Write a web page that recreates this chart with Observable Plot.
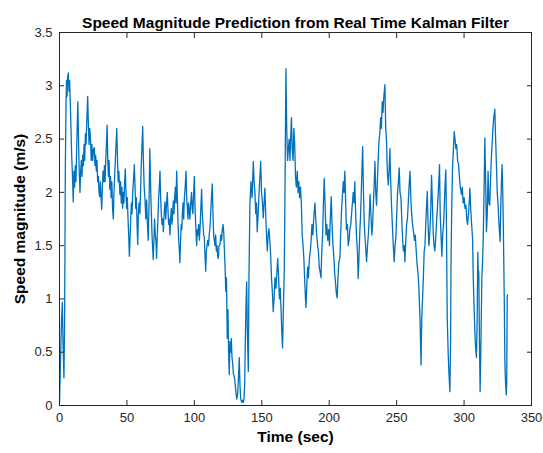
<!DOCTYPE html>
<html><head><meta charset="utf-8">
<script src="https://cdn.jsdelivr.net/npm/d3@7"></script>
<script src="https://cdn.jsdelivr.net/npm/@observablehq/plot@0.6"></script>
<style>
body{margin:0;background:#fff;}
#chart svg{font-family:"Liberation Sans",Arial,sans-serif;}
</style>
</head><body><div id="chart"></div>
<script>
const titleText = "Speed Magnitude Prediction from Real Time Kalman Filter";
const xLabelText = "Time (sec)";
const yLabelText = "Speed magnitude (m/s)";
const xTicks = [0, 50, 100, 150, 200, 250, 300, 350];
const yTicks = [0, 0.5, 1, 1.5, 2, 2.5, 3, 3.5];

// [time (s), speed magnitude (m/s)]
const speedSeries = [
[0,0.02],[0.5,0.3],[1,0.55],[1.5,0.8],[2.1,0.97],[2.6,0.6],[3.3,0.26],[3.8,0.8],[4.3,2.2],[4.8,2.8],[5.2,3.05],[5.6,2.9],[6,3.08],[6.5,3.12],[7,2.95],[7.5,3.05],[8,2.85],[8.5,2.6],[9,2.35],[9.5,2.2],[10.2,1.91],
[10.7,2.2],[11.2,2.05],[11.7,2.25],[12.2,2.1],[12.7,2.4],[13.1,2.6],[13.6,2.85],[14.1,2.5],[14.6,2.2],[15.2,2.0],[15.7,2.2],[16.2,2.3],[16.7,2.15],[17.2,2.35],[17.7,2.25],[18.2,2.45],[18.7,2.3],[19.2,2.55],[19.7,2.45],[20.2,2.65],[20.6,2.8],[20.9,2.9],[21.4,2.65],[21.9,2.45],[22.4,2.6],[23,2.5],[23.5,2.3],[24,2.45],[24.6,2.3],[25.2,2.4],[25.8,2.42],[26.3,2.25],[26.8,2.35],[27.3,2.2],[27.8,2.3],[28.3,2.1],[28.8,2.15],[29.3,2.0],[29.8,1.96],[30.3,2.1],[30.8,1.95],[31.3,1.84],
[31.8,2.05],[32.3,2.2],[32.8,2.1],[33.3,2.25],[33.8,2.1],[34.3,2.3],[34.8,2.45],[35.3,2.63],[35.8,2.3],[36.3,2.15],[36.8,2.3],[37.3,2.03],[37.8,2.15],[38.3,1.95],[38.8,2.1],[39.4,1.84],[39.9,1.75],[40.4,2.0],[40.9,2.15],[41.4,2.3],[41.9,2.45],[42.5,2.6],[43,2.3],[43.5,2.1],[44,2.2],[44.8,1.98],[45.3,2.1],[45.8,1.9],[46.3,2.05],[46.8,1.85],[47.3,2.0],[47.8,1.9],[48.3,2.1],[48.8,2.22],[49.3,2.0],[49.8,1.85],[50.3,1.95],[50.8,1.76],[51.3,1.6],[51.8,1.4],[52.3,1.55],[52.8,1.75],[53.3,1.9],[53.8,1.8],[54.3,2.0],[54.8,2.1],[55.5,2.26],[56,2.05],[56.5,1.85],[57,1.95],[57.5,1.7],[58,1.51],[58.5,1.8],[59,1.9],[59.6,1.8],[60.1,2.0],[60.6,2.25],[61.2,2.45],[61.7,2.62],[62.2,2.3],[62.8,2.05],[63.4,1.93],[64,1.75],[64.6,1.93],[65.2,1.7],[65.8,1.55],[66.4,1.9],[67,2.41],[67.5,2.1],[68,1.85],[68.6,1.6],[69.2,1.45],[69.5,1.37],[70,1.55],[70.5,1.75],[71,1.6],[71.5,1.55],[72,1.38],
[72.5,1.6],[73,1.75],[73.5,1.95],[74,2.05],[74.5,2.2],[75,1.95],[75.5,1.8],[76,1.7],[76.5,1.75],[77,1.63],[77.6,1.8],[78.2,1.91],[78.8,1.75],[79.4,1.9],[79.9,2.0],[80.4,1.85],[80.9,1.7],[81.4,1.75],[81.9,1.6],[82.4,1.75],[82.9,1.85],[83.4,1.7],[83.9,1.8],[84.4,1.92],[84.9,1.8],[85.4,1.95],[85.9,2.05],[86.4,1.9],[86.9,2.2],[87.4,1.95],[87.9,1.7],[88.4,1.55],[88.9,1.45],[89.3,1.34],[89.8,1.55],[90.3,1.7],[90.7,1.65],[91.1,1.8],[91.6,1.9],[92.1,1.75],[92.6,1.95],[93.2,2.05],[93.8,2.2],[94.3,1.95],[94.8,1.85],[95.3,1.75],[95.7,1.9],[96.2,1.84],[96.7,1.75],[97.3,1.9],[97.9,2.0],[98.4,1.85],[98.9,1.8],[99.5,2.0],[100,2.15],[100.5,1.85],[101,1.7],[101.7,1.5],[102.2,1.65],[102.7,1.6],[103.2,1.7],[103.7,1.55],[104.2,1.65],[104.8,1.85],[105.4,2.03],[105.9,1.8],[106.4,1.7],[106.9,1.6],[107.4,1.58],[107.9,1.4],[108.4,1.26],[108.9,1.45],[109.4,1.5],[109.9,1.55],[110.5,1.5],[111,1.6],[111.6,1.67],[112.1,1.8],[112.7,1.95],[113.3,2.08],[113.8,1.8],[114.3,1.6],[114.8,1.55],[115.3,1.5],[115.8,1.6],[116.3,1.45],[116.8,1.5],[117.3,1.4],[117.8,1.38],[118.3,1.5],[119,1.51],[119.6,1.6],[120.2,1.55],[120.7,1.65],[121.3,1.7],[121.8,1.62],[122.3,1.45],[122.8,1.29],[123.3,1.07],[123.8,1.2],[124.4,0.63],[124.9,0.9],[125.4,0.5],[125.9,0.29],[126.4,0.6],[126.9,0.5],[127.4,0.63],[127.9,0.45],[128.4,0.4],[128.9,0.3],[129.4,0.28],[129.9,0.25],[130.5,0.17],[131,0.1],[131.5,0.06],[132,0.1],[132.5,0.2],[133,0.35],[133.3,0.45],[133.8,0.2],[134.3,0.07],[134.8,0.04],[135.3,0.03],[135.8,0.05],[136.3,0.03],[136.8,0.06],[137.3,0.2],[137.8,0.6],[138.3,0.95],[138.8,1.16],[139.3,0.7],[140,0.32],[140.5,1.2],
[141.2,1.89],[142,2.1],[142.8,1.95],[143.7,2.29],[144.3,2.1],[144.9,2.0],[145.5,1.8],[146.1,1.9],[146.6,1.63],[147.3,1.8],[148,2.0],[148.6,2.15],[149.2,2.29],[149.8,2.0],[150.5,1.9],[151.1,1.76],[151.7,1.9],[152.3,2.04],[152.9,1.8],[153.5,1.6],[154.1,1.45],[154.7,1.6],[155.3,1.66],[156,1.55],[156.6,1.4],[157.2,1.2],[157.9,1.05],[158.5,0.88],[159.1,1.0],[159.8,1.2],[160.5,1.1],[161.2,1.25],[161.8,1.38],[162.5,1.2],[163.1,1.0],[163.7,1.1],[164.3,0.9],[164.8,0.7],[165.4,0.54],[166,0.9],[166.7,1.29],[167.2,2.0],[167.9,3.16],[168.5,2.6],[169.1,2.3],[169.7,2.4],[170.3,2.5],[170.9,2.3],[171.5,2.55],[172,2.7],[172.6,2.4],[173.2,2.3],[173.8,2.6],[174.4,2.45],[175,2.15],[175.6,2.05],[176.3,2.2],[176.9,2.0],[177.5,2.1],[178,1.95],[178.7,2.05],[179.3,1.9],[180,1.6],[180.6,1.5],[181.2,1.38],[181.9,1.15],[182.7,0.92],[183.3,1.1],[184,1.3],[184.6,1.2],[185.3,1.38],[186,1.45],[186.6,1.55],[187.2,1.7],[187.9,1.6],[188.5,1.75],[189.4,1.9],[190,1.75],[190.7,1.6],[191.4,1.5],[192,1.45],[192.6,1.3],[193.3,1.25],[193.9,1.2],[194.5,1.45],[195.1,1.6],[195.7,1.9],[196.3,2.13],[196.9,1.9],[197.6,1.6],[198.2,1.7],[198.9,1.55],[199.6,1.65],[200.2,1.5],[200.8,1.75],[201.5,1.96],[202.1,1.7],[202.8,1.5],[203.4,1.4],[204,1.25],[204.7,1.15],[205.3,1.05],[205.9,1.01],[206.5,1.2],[207.2,1.35],[207.9,1.38],[208.5,1.6],[209,1.8],[209.7,1.95],[210.4,2.1],[211,2.0],[211.6,2.2],[212.2,1.9],[212.8,1.65],[213.5,1.7],[214.1,1.5],[214.7,1.55],[215.3,1.65],[216,1.7],[216.6,1.8],[217.2,1.9],[217.8,2.0],[218.4,1.9],[219,2.1],[219.6,1.8],[220.2,1.6],[220.9,1.45],[221.5,1.19],[222.1,1.4],[222.7,1.63],[223.3,1.8],[224,2.1],[224.8,2.43],[225.4,2.0],[226,1.7],[226.6,1.57],[227.2,1.45],[227.7,1.35],[228.4,1.5],[229,1.6],[229.6,1.75],[230.3,1.98],[230.9,1.8],[231.6,1.6],[232.2,1.7],[232.8,1.9],[233.4,2.1],[233.9,2.29],[234.5,2.0],[235.1,1.88],[235.7,2.1],[236.3,2.3],[236.9,2.48],[237.5,2.55],[238.1,2.7],[238.7,2.6],[239.3,2.85],[239.9,2.75],[240.5,2.9],[241.3,3.01],[241.9,2.6],[242.5,2.48],[243.1,2.2],[243.8,2.07],[244.4,2.2],[245,2.41],[245.6,2.1],[246.2,1.88],[246.8,1.7],[247.5,1.5],[248.2,1.35],[248.8,1.5],[249.4,1.57],[250.1,1.8],[250.7,2.0],[251.3,2.1],[251.9,2.23],[252.5,2.0],[253.2,1.95],[253.8,1.75],[254.4,1.57],[255,1.45],[255.6,1.5],[256.1,1.35],[256.8,1.55],[257.4,1.7],[258,1.75],[258.6,1.9],[259.2,2.05],[259.9,2.2],[260.5,1.95],[261.1,1.8],[261.8,1.7],[262.5,1.63],[263.2,1.55],[263.8,1.6],[264.5,1.45],[265.2,1.32],[265.8,1.25],[266.5,1.1],[267.3,0.82],[268.1,0.38],[268.6,0.8],[269.2,1.0],[269.8,1.2],[270.4,1.44],[271,1.5],[271.6,1.7],[272.1,1.85],[272.7,2.01],[273.3,1.7],[273.9,1.5],[274.5,1.6],[275.2,1.8],[275.9,2.16],[276.5,1.9],[277.1,1.63],[277.7,1.5],[278.3,1.45],[278.9,1.55],[279.5,1.7],[280.2,1.85],[280.9,2.0],[281.8,2.26],[282.3,1.8],[282.9,1.6],[283.5,1.4],[284.1,1.6],[284.8,1.7],[285.4,1.9],[286,2.1],[286.5,2.21],[287,1.6],[287.5,0.82],[288.2,0.5],[288.8,0.3],[289.5,0.13],[290,0.6],[290.3,1.32],[290.9,1.9],[291.5,2.26],[292.1,2.4],[292.7,2.57],[293.3,2.5],[293.9,2.41],[294.5,2.45],[295.2,2.3],[295.9,2.26],[296.5,2.15],[297.2,2.05],[298.1,1.98],[298.7,2.05],[299.3,1.9],[300.1,1.95],[300.7,1.85],[301.4,1.88],[302,1.75],[302.6,1.7],[303.3,1.8],[304,1.95],[304.3,2.04],[304.9,1.85],[305.6,1.7],[306.3,1.57],[306.8,1.2],[307.4,0.94],[308,0.7],[308.5,0.55],[309.2,0.45],[309.7,0.8],[310.2,1.44],[310.6,1.2],[310.9,1.26],[311.4,0.6],[311.9,0.13],[312.5,0.6],[313.2,1.2],[313.7,1.35],[314.2,1.57],[314.8,2.0],[315.4,2.51],[316,2.1],[316.6,1.63],[317.2,1.8],[317.8,2.2],[318.4,1.9],[319,1.88],[319.6,2.1],[320.2,2.32],[320.8,2.45],[321.4,2.6],[322,2.7],[322.8,2.78],[323.4,2.5],[324,2.26],[324.6,2.0],[325.2,1.88],[325.9,1.7],[326.7,1.54],[327.3,1.9],[327.7,2.1],[328.2,2.26],[328.7,2.0],[329.2,1.6],[329.8,1.0],[330.3,0.38],[330.8,0.2],[331.3,0.1],[331.6,0.2],[332,1.01],[332.2,1.04]
];

const data = speedSeries.map(([t, v]) => ({t, v}));
const ink = "#262626";
const plainNumber = d => String(d);

const chart = Plot.plot({
  width: 543,
  height: 453,
  marginLeft: 59,
  marginRight: 12,
  marginTop: 32,
  marginBottom: 48,
  style: {fontFamily: '"Liberation Sans", Arial, sans-serif', fontSize: "13px", color: ink, background: "#fff"},
  x: {domain: [0, 350]},
  y: {domain: [0, 3.5]},
  marks: [
    Plot.line(data, {x: "t", y: "v", stroke: "#0072BD", strokeWidth: 1.3}),
    Plot.frame({stroke: ink, strokeWidth: 1}),
    Plot.axisX({anchor: "bottom", ticks: xTicks, tickFormat: plainNumber, tickSize: -5, tickPadding: 12, label: null, stroke: ink, fill: ink, fontSize: 13}),
    Plot.axisX({anchor: "top", ticks: xTicks, tickSize: -5, tickFormat: () => "", label: null, stroke: ink}),
    Plot.axisY({anchor: "left", ticks: yTicks, tickFormat: plainNumber, tickSize: -5, tickPadding: 12, label: null, stroke: ink, fill: ink, fontSize: 13}),
    Plot.axisY({anchor: "right", ticks: yTicks, tickSize: -5, tickFormat: () => "", label: null, stroke: ink}),
    Plot.text([titleText], {frameAnchor: "top", dy: -16, fontWeight: "bold", fontSize: 15.5, fill: "#000"}),
    Plot.text([xLabelText], {frameAnchor: "bottom", dy: 36, fontWeight: "bold", fontSize: 15.5, fill: "#000"}),
    Plot.text([yLabelText], {frameAnchor: "left", textAnchor: "middle", dx: -39, rotate: -90, fontWeight: "bold", fontSize: 15.5, fill: "#000"})
  ]
});
document.getElementById("chart").appendChild(chart);
</script>
</body></html>
